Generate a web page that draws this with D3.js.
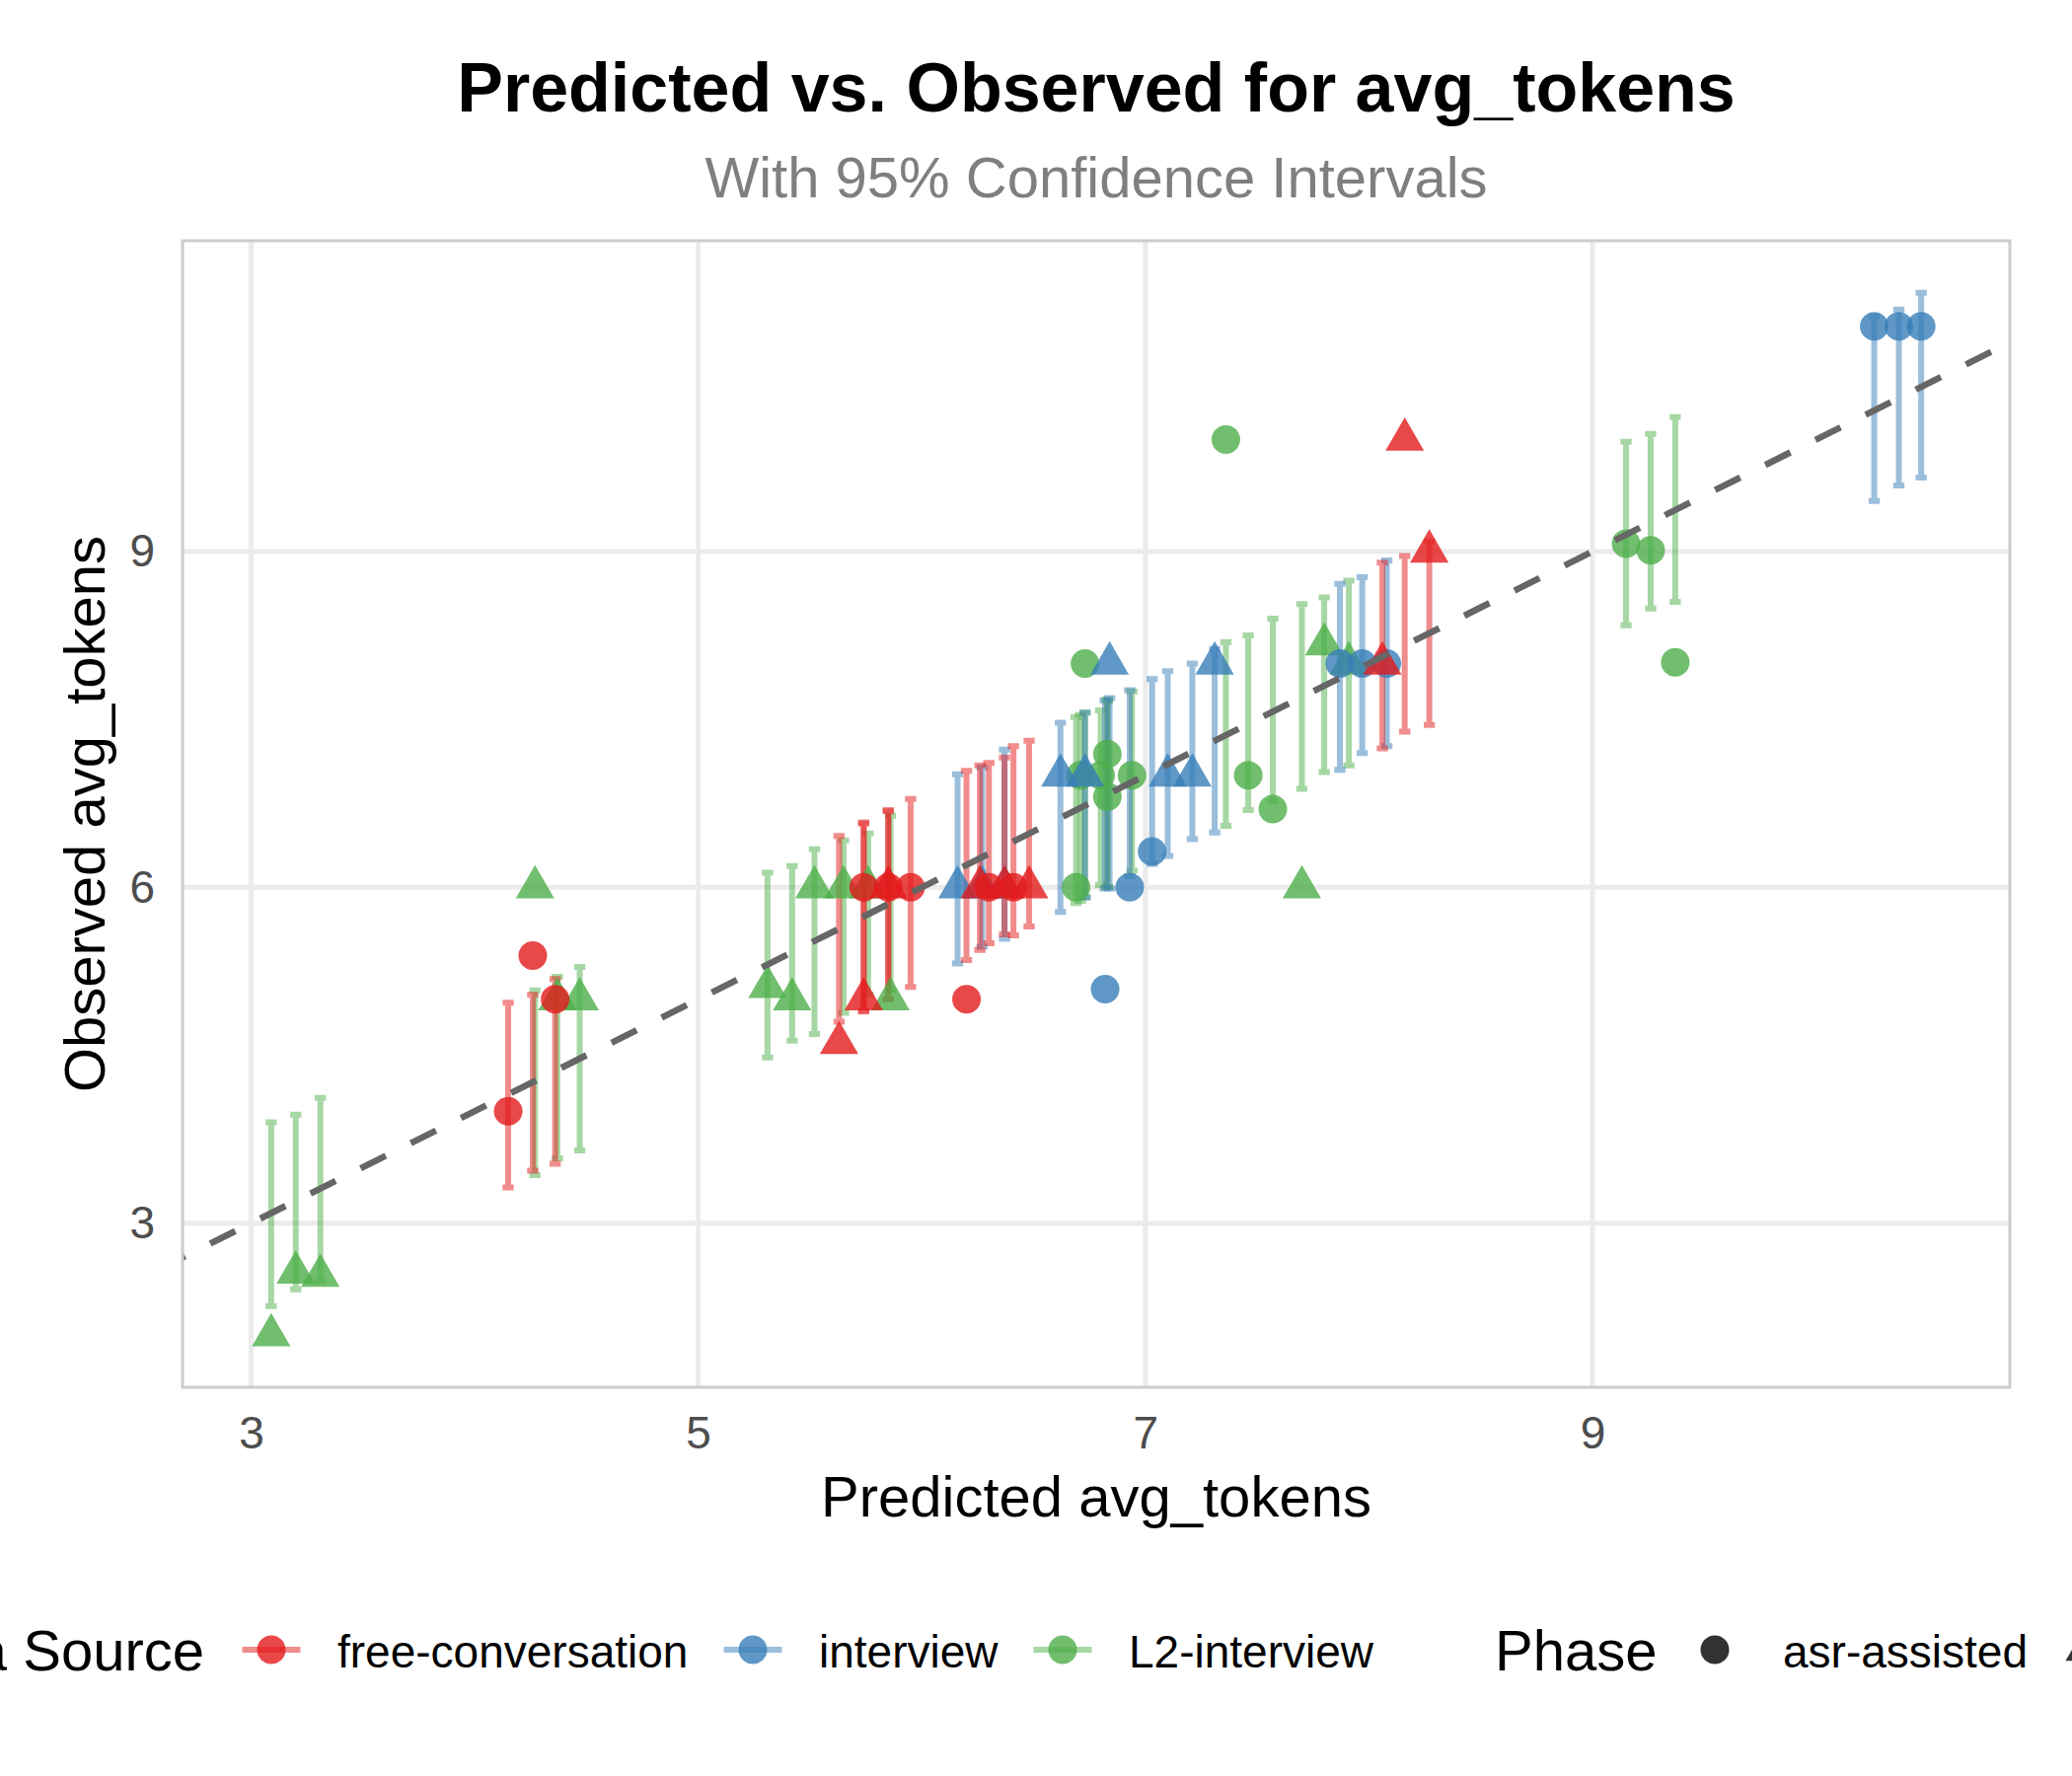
<!DOCTYPE html>
<html>
<head>
<meta charset="utf-8">
<script src="https://cdn.jsdelivr.net/npm/d3@7"></script>
<style>
  body { margin: 0; background: #fff; }
  text { font-family: "Liberation Sans", Arial, Helvetica, sans-serif; }
</style>
</head>
<body>
<svg id="chart" width="2100" height="1800"></svg>
<script>
// categories
const sources = ["free-conversation", "interview", "L2-interview"];
const phases = ["asr-assisted", "standard"];
const sourceColors = ["#E41A1C", "#377EB8", "#4DAF4A"];

// [predicted, observed, ci lower, ci upper, phase index]
const freeConversation = [
  [4.15, 4.00, 3.32, 4.97, 0],
  [4.26, 5.39, 3.47, 5.04, 0],
  [4.36, 5.00, 3.53, 5.18, 0],
  [5.74, 6.00, 4.89, 6.58, 0],
  [5.85, 6.00, 5.00, 6.69, 0],
  [5.95, 6.00, 5.11, 6.79, 0],
  [6.20, 5.00, 5.35, 7.04, 0],
  [6.30, 6.00, 5.50, 7.11, 0],
  [6.41, 6.00, 5.57, 7.26, 0],
  [5.63, 4.61, 4.80, 6.46, 1],
  [5.74, 5.00, 4.90, 6.57, 1],
  [5.85, 6.00, 5.00, 6.68, 1],
  [6.26, 6.00, 5.44, 7.09, 1],
  [6.37, 6.00, 5.58, 7.16, 1],
  [6.48, 6.00, 5.65, 7.31, 1],
  [8.06, 8.00, 7.24, 8.90, 1],
  [8.16, 10.00, 7.39, 8.96, 1],
  [8.27, 9.00, 7.45, 9.09, 1]
];

const interview = [
  [6.82, 5.09, 5.99, 7.67, 0],
  [6.93, 6.00, 6.10, 7.76, 0],
  [7.03, 6.32, 6.21, 7.86, 0],
  [7.87, 8.00, 7.05, 8.71, 0],
  [7.97, 8.00, 7.20, 8.77, 0],
  [8.08, 8.00, 7.26, 8.92, 0],
  [10.26, 11.01, 9.45, 11.10, 0],
  [10.37, 11.01, 9.59, 11.16, 0],
  [10.47, 11.01, 9.66, 11.31, 0],
  [6.16, 6.00, 5.32, 7.01, 1],
  [6.27, 6.00, 5.47, 7.07, 1],
  [6.37, 6.00, 5.54, 7.23, 1],
  [6.62, 7.00, 5.78, 7.47, 1],
  [6.73, 7.00, 5.91, 7.56, 1],
  [6.84, 8.00, 5.99, 7.69, 1],
  [7.10, 7.00, 6.28, 7.93, 1],
  [7.21, 7.00, 6.43, 8.00, 1],
  [7.31, 8.00, 6.49, 8.13, 1]
];

const l2Interview = [
  [3.09, 2.00, 2.26, 3.90, 1],
  [3.20, 2.56, 2.41, 3.97, 1],
  [3.31, 2.53, 2.48, 4.12, 1],
  [4.27, 6.00, 3.43, 5.08, 1],
  [4.37, 5.00, 3.58, 5.20, 1],
  [4.47, 5.00, 3.65, 5.29, 1],
  [5.31, 5.11, 4.48, 6.13, 1],
  [5.42, 5.00, 4.63, 6.19, 1],
  [5.52, 6.00, 4.69, 6.34, 1],
  [5.65, 6.00, 4.88, 6.42, 1],
  [5.76, 6.00, 5.04, 6.48, 1],
  [5.86, 5.00, 5.08, 6.64, 1],
  [7.70, 6.00, 6.88, 8.53, 1],
  [7.80, 8.17, 7.03, 8.59, 1],
  [7.91, 8.00, 7.09, 8.74, 1],
  [6.69, 6.00, 5.86, 7.52, 0],
  [6.73, 8.00, 5.91, 7.56, 0],
  [6.71, 7.00, 5.88, 7.54, 0],
  [6.80, 7.00, 6.02, 7.58, 0],
  [6.83, 7.19, 6.00, 7.68, 0],
  [6.83, 6.81, 6.00, 7.66, 0],
  [6.94, 7.00, 6.15, 7.75, 0],
  [7.36, 10.00, 6.55, 8.19, 0],
  [7.46, 7.00, 6.69, 8.25, 0],
  [7.57, 6.70, 6.77, 8.40, 0],
  [9.15, 9.07, 8.34, 9.98, 0],
  [9.26, 9.01, 8.49, 10.05, 0],
  [9.37, 8.01, 8.55, 10.20, 0]
];

const xTicks = [3, 5, 7, 9];
const yTicks = [3, 6, 9];

// rows tagged with source index; drawing order green, blue, red
const seriesBySource = [freeConversation, interview, l2Interview];
const drawOrder = [2, 1, 0];
const rows = [];
drawOrder.forEach(s => {
  seriesBySource[s].forEach(r => rows.push({
    pred: r[0], obs: r[1], lo: r[2], hi: r[3], phase: r[4], source: s
  }));
});

const svg = d3.select("#chart");
svg.append("rect").attr("width", 2100).attr("height", 1800).attr("fill", "#fff");

const margin = { left: 185, right: 2037, top: 244, bottom: 1406 };
const barW = 0.05;

// ggplot-style 5% expansion
function expand(ext) {
  const d = ext[1] - ext[0];
  return [ext[0] - 0.05 * d, ext[1] + 0.05 * d];
}
const xDom = expand([d3.min(rows, d => d.pred - barW / 2), d3.max(rows, d => d.pred + barW / 2)]);
const yDom = expand([d3.min(rows, d => Math.min(d.obs, d.lo)), d3.max(rows, d => Math.max(d.obs, d.hi))]);

const x = d3.scaleLinear().domain(xDom).range([margin.left, margin.right]);
const y = d3.scaleLinear().domain(yDom).range([margin.bottom, margin.top]);
const color = d3.scaleOrdinal().domain(d3.range(3)).range(sourceColors);

// grid
const grid = svg.append("g");
grid.selectAll(".vx").data(xTicks).join("line")
  .attr("x1", d => x(d)).attr("x2", d => x(d))
  .attr("y1", margin.top).attr("y2", margin.bottom)
  .attr("stroke", "#EBEBEB").attr("stroke-width", 5);
grid.selectAll(".hy").data(yTicks).join("line")
  .attr("y1", d => y(d)).attr("y2", d => y(d))
  .attr("x1", margin.left).attr("x2", margin.right)
  .attr("stroke", "#EBEBEB").attr("stroke-width", 5);

svg.append("clipPath").attr("id", "panel")
  .append("rect")
  .attr("x", margin.left).attr("y", margin.top)
  .attr("width", margin.right - margin.left).attr("height", margin.bottom - margin.top);

const plot = svg.append("g").attr("clip-path", "url(#panel)");

// error bars
plot.selectAll(".err").data(rows).join("path")
  .attr("d", d => {
    const p = d3.path();
    const xl = x(d.pred - barW / 2), xr = x(d.pred + barW / 2), xc = x(d.pred);
    p.moveTo(xl, y(d.hi)); p.lineTo(xr, y(d.hi)); p.lineTo(xc, y(d.hi));
    p.lineTo(xc, y(d.lo)); p.lineTo(xl, y(d.lo)); p.lineTo(xr, y(d.lo));
    return p.toString();
  })
  .attr("fill", "none")
  .attr("stroke", d => color(d.source))
  .attr("stroke-opacity", 0.5)
  .attr("stroke-width", 6);

// point shapes (R pch 19 / 17 proportions)
const circleType = { draw(ctx, r) { ctx.moveTo(r, 0); ctx.arc(0, 0, r, 0, 2 * Math.PI); } };
const triangleType = {
  draw(ctx, r) {
    ctx.moveTo(0, -1.5551 * r);
    ctx.lineTo(1.3468 * r, 0.7776 * r);
    ctx.lineTo(-1.3468 * r, 0.7776 * r);
    ctx.closePath();
  }
};
const shapeTypes = [circleType, triangleType];
const ptR = 14.5;

plot.selectAll(".pt").data(rows).join("path")
  .attr("transform", d => `translate(${x(d.pred)},${y(d.obs)})`)
  .attr("d", d => d3.symbol().type(shapeTypes[d.phase]).size(ptR)())
  .attr("fill", d => color(d.source))
  .attr("fill-opacity", 0.8);

// identity line
plot.append("path")
  .attr("d", d3.line().x(d => x(d)).y(d => y(d))(xDom))
  .attr("fill", "none")
  .attr("stroke", "#666666")
  .attr("stroke-width", 6.5)
  .attr("stroke-dasharray", "28.43 28.43")
  .attr("stroke-dashoffset", 25.5);

// panel border
svg.append("rect")
  .attr("x", margin.left).attr("y", margin.top)
  .attr("width", margin.right - margin.left).attr("height", margin.bottom - margin.top)
  .attr("fill", "none").attr("stroke", "#CCCCCC").attr("stroke-width", 3);

// axes
const xAxis = svg.append("g")
  .attr("transform", `translate(0,${margin.bottom})`)
  .call(d3.axisBottom(x).tickValues(xTicks).tickSize(0).tickPadding(29).tickFormat(d3.format("d")));
const yAxis = svg.append("g")
  .attr("transform", `translate(${margin.left},0)`)
  .call(d3.axisLeft(y).tickValues(yTicks).tickSize(0).tickPadding(28).tickFormat(d3.format("d")));
[xAxis, yAxis].forEach(a => {
  a.select(".domain").remove();
  a.attr("font-family", null).attr("font-size", null);
  a.selectAll("text").attr("fill", "#4D4D4D").style("font-size", "46px");
});

// titles
svg.append("text").attr("x", 1111).attr("y", 113).attr("text-anchor", "middle")
  .style("font-size", "70px").style("font-weight", "bold").attr("fill", "#000")
  .text("Predicted vs. Observed for avg_tokens");
svg.append("text").attr("x", 1111).attr("y", 200).attr("text-anchor", "middle")
  .style("font-size", "58px").attr("fill", "#7F7F7F")
  .text("With 95% Confidence Intervals");
svg.append("text").attr("x", 1111).attr("y", 1537).attr("text-anchor", "middle")
  .style("font-size", "58px").attr("fill", "#000")
  .text("Predicted avg_tokens");
svg.append("text").attr("transform", "translate(106,825) rotate(-90)").attr("text-anchor", "middle")
  .style("font-size", "58px").attr("fill", "#000")
  .text("Observed avg_tokens");

// legend
const legend = svg.append("g");
const keyY = 1672;
legend.append("text").attr("x", 207).attr("y", 1693).attr("text-anchor", "end")
  .style("font-size", "58px").text("Data Source");
const sourceKeyX = [275, 763, 1077];
sources.forEach((s, i) => {
  const g = legend.append("g").attr("transform", `translate(${sourceKeyX[i]},${keyY})`);
  g.append("line").attr("x1", -29.5).attr("x2", 29.5)
    .attr("stroke", sourceColors[i]).attr("stroke-opacity", 0.5).attr("stroke-width", 6);
  g.append("path").attr("d", d3.symbol().type(circleType).size(ptR)())
    .attr("fill", sourceColors[i]).attr("fill-opacity", 0.8);
  legend.append("text").attr("x", sourceKeyX[i] + 67).attr("y", 1690)
    .style("font-size", "46px").text(s);
});
legend.append("text").attr("x", 1515).attr("y", 1693)
  .style("font-size", "58px").text("Phase");
const phaseKeyX = [1738, 2113];
phases.forEach((p, i) => {
  legend.append("path")
    .attr("transform", `translate(${phaseKeyX[i]},${keyY})`)
    .attr("d", d3.symbol().type(shapeTypes[i]).size(ptR)())
    .attr("fill", "#000").attr("fill-opacity", 0.8);
  legend.append("text").attr("x", phaseKeyX[i] + 69).attr("y", 1690)
    .style("font-size", "46px").text(p);
});
</script>
</body>
</html>
